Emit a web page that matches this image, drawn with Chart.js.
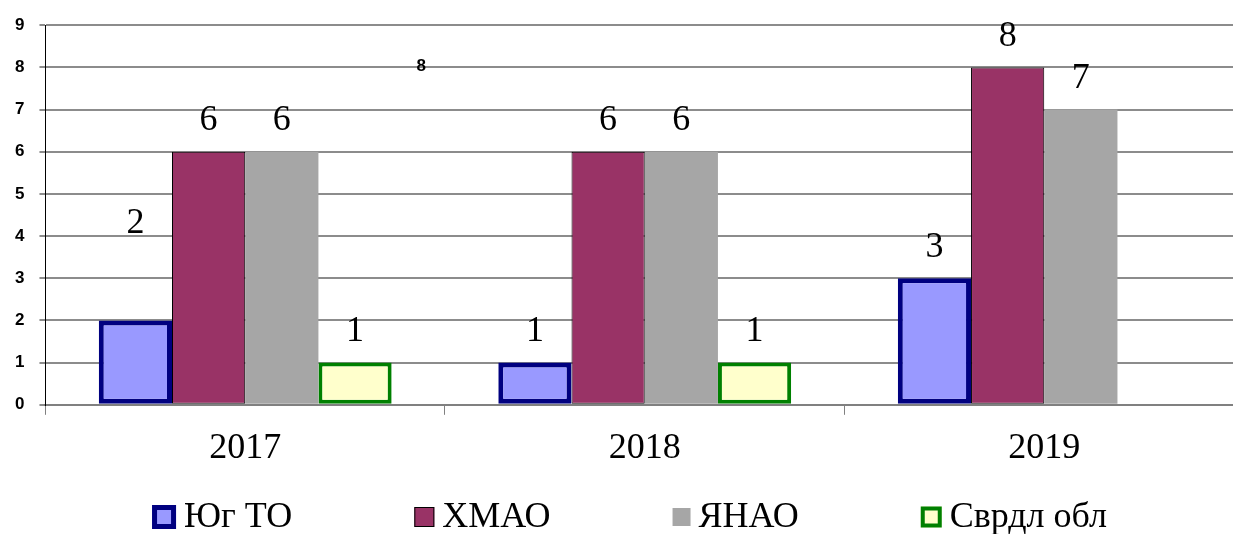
<!DOCTYPE html>
<html>
<head>
<meta charset="utf-8">
<script src="https://cdn.jsdelivr.net/npm/chart.js@4/dist/chart.umd.min.js"></script>
<style>
  html, body { margin: 0; padding: 0; background: #fff; overflow: hidden; }
  #wrap { position: relative; width: 1245px; height: 534px; }
</style>
</head>
<body>
<div id="wrap"><canvas id="chart"></canvas></div>
<script>
// Data
const years = ['2017', '2018', '2019'];
const yugTO = [2, 1, 3];
const hmao = [6, 6, 8];
const yanao = [6, 6, 7];
const sverdl = [1, 1, null];
const seriesNames = ['Юг ТО', 'ХМАО', 'ЯНАО', 'Сврдл обл'];
const yMin = 0;
const yMax = 9;

const serif = '"Liberation Serif", "Times New Roman", serif';
const sans = '"Liberation Sans", Arial, sans-serif';

// Value labels above the bars
const valueLabels = {
    id: 'valueLabels',
    afterDatasetsDraw(chart) {
        const ctx = chart.ctx;
        ctx.save();
        ctx.fillStyle = '#000';
        ctx.font = '36px ' + serif;
        ctx.textAlign = 'center';
        ctx.textBaseline = 'middle';
        chart.data.datasets.forEach((ds, di) => {
            chart.getDatasetMeta(di).data.forEach((bar, i) => {
                const v = ds.data[i];
                if (v === null || v === undefined) return;
                // the 2017 label for Юг ТО sits higher in the original
                const lift = (di === 0 && i === 0) ? 97 : 31;
                ctx.fillText(String(v), bar.x, bar.y - lift);
            });
        });
        // stray small label left in the original chart
        const x = chart.scales.x;
        const y = chart.scales.y;
        ctx.font = 'bold 17px ' + sans;
        ctx.fillText('8', x.getPixelForValue(0) + 176, y.getPixelForValue(8) - 1);
        ctx.restore();
    }
};

// Legend drawn at the bottom, wide gaps like the original
const bottomLegend = {
    id: 'bottomLegend',
    afterDraw(chart) {
        const ctx = chart.ctx;
        const gap = 122;
        const textGap = 8;
        const visibleWidth = 1233;
        const yMid = 517;
        const boxSize = { 5: 24, 4: 21, 1: 20, 0: 18 };
        ctx.save();
        ctx.font = '36px ' + serif;
        ctx.textBaseline = 'middle';
        ctx.textAlign = 'left';
        const items = chart.data.datasets.map(ds => {
            const size = boxSize[ds.borderWidth] || 20;
            const w = size + textGap + ctx.measureText(ds.label).width;
            return { ds, size, w };
        });
        const total = items.reduce((s, it) => s + it.w, 0) + gap * (items.length - 1);
        let x = (visibleWidth - total) / 2 + 13;
        items.forEach(it => {
            const ds = it.ds;
            const top = yMid - it.size / 2;
            ctx.fillStyle = ds.backgroundColor;
            ctx.fillRect(x, top, it.size, it.size);
            if (ds.borderWidth) {
                const bw = ds.borderWidth;
                ctx.strokeStyle = ds.borderColor;
                ctx.lineWidth = bw;
                ctx.strokeRect(x + bw / 2, top + bw / 2, it.size - bw, it.size - bw);
            }
            ctx.fillStyle = '#000';
            ctx.fillText(ds.label, x + it.size + textGap, yMid + 1);
            x += it.w + gap;
        });
        ctx.restore();
    }
};

const ctx = document.getElementById('chart').getContext('2d');
const chart = new Chart(ctx, {
    type: 'bar',
    data: {
        labels: years,
        datasets: [
            { label: seriesNames[0], data: yugTO, backgroundColor: '#9999ff', borderColor: '#000080', borderWidth: 5, borderSkipped: false },
            { label: seriesNames[1], data: hmao, backgroundColor: '#993366', borderColor: '#000000', borderWidth: 1, borderSkipped: false },
            { label: seriesNames[2], data: yanao, backgroundColor: '#a6a6a6', borderColor: '#a6a6a6', borderWidth: 0 },
            { label: seriesNames[3], data: sverdl, backgroundColor: '#ffffcc', borderColor: '#008000', borderWidth: 4, borderSkipped: false }
        ]
    },
    options: {
        responsive: true,
        maintainAspectRatio: false,
        animation: false,
        categoryPercentage: 0.733,
        barPercentage: 1,
        layout: { padding: { top: 16, right: 1, bottom: 52, left: 0 } },
        scales: {
            x: {
                grid: { display: true, drawOnChartArea: false, offset: true, tickLength: 10, color: '#808080', lineWidth: 1 },
                border: { color: '#808080', width: 2 },
                ticks: { color: '#000', font: { family: serif, size: 36 }, padding: 12 }
            },
            y: {
                min: yMin,
                max: yMax,
                ticks: { stepSize: 1, color: '#000', font: { family: sans, size: 17, weight: 'bold' }, padding: 15 },
                grid: { color: '#8c8c8c', lineWidth: 2, tickLength: 6 },
                border: { color: '#000', width: 1 }
            }
        },
        plugins: {
            legend: { display: false },
            tooltip: { enabled: false }
        }
    },
    plugins: [valueLabels, bottomLegend]
});
</script>
</body>
</html>
